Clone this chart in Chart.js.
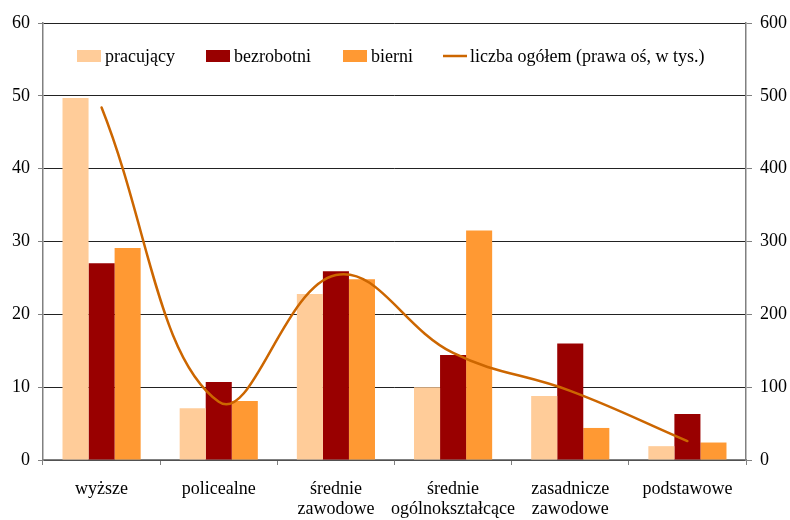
<!DOCTYPE html>
<html>
<head>
<meta charset="utf-8">
<script src="https://cdn.jsdelivr.net/npm/chart.js@4/dist/chart.umd.min.js"></script>
<style>
html,body{margin:0;padding:0;background:#fff;}
#wrap{width:790px;height:520px;position:relative;}
</style>
</head>
<body>
<div id="wrap"><canvas id="c" width="790" height="520"></canvas></div>
<script>
const categories = [['wyższe'], ['policealne'], ['średnie', 'zawodowe'], ['średnie', 'ogólnokształcące'], ['zasadnicze', 'zawodowe'], ['podstawowe']];
const pracujacy = [49.7, 7.1, 22.8, 10.0, 8.8, 1.9];
const bezrobotni = [27.0, 10.7, 25.9, 14.4, 16.0, 6.3];
const bierni = [29.1, 8.1, 24.8, 31.5, 4.4, 2.4];
const liczbaOgolem = [484, 80, 254, 147, 95, 26];
const seriesNames = ['pracujący', 'bezrobotni', 'bierni', 'liczba ogółem (prawa oś, w tys.)'];
const leftAxis = { min: 0, max: 60, step: 10 };
const rightAxis = { min: 0, max: 600, step: 100 };

const FONT = '"Liberation Serif", "Times New Roman", serif';
const colors = ['#FFCC99', '#990000', '#FF9933', '#CC6600'];

const legendPlugin = {
  id: 'insideLegend',
  afterDraw(chart) {
    const ctx = chart.ctx;
    const items = [
      { x: 77, tx: 105, type: 'box' },
      { x: 206, tx: 234, type: 'box' },
      { x: 343, tx: 371, type: 'box' },
      { x: 443, tx: 470, type: 'line' }
    ];
    const y = 56;
    ctx.save();
    ctx.font = '18px ' + FONT;
    ctx.textBaseline = 'middle';
    items.forEach((it, i) => {
      if (it.type === 'box') {
        ctx.fillStyle = colors[i];
        ctx.fillRect(it.x, y - 6, 24, 12);
      } else {
        ctx.strokeStyle = colors[i];
        ctx.lineWidth = 2.5;
        ctx.beginPath();
        ctx.moveTo(it.x, y);
        ctx.lineTo(it.x + 24, y);
        ctx.stroke();
      }
      ctx.fillStyle = '#000';
      ctx.fillText(seriesNames[i], it.tx, y + 1);
    });
    ctx.restore();
  }
};

new Chart(document.getElementById('c'), {
  type: 'bar',
  data: {
    labels: categories,
    datasets: [
      { type: 'line', label: seriesNames[3], data: liczbaOgolem, yAxisID: 'y1', borderColor: colors[3], borderWidth: 2.5, pointRadius: 0, tension: 0.4, order: 0, fill: false, borderCapStyle: 'round' },
      { label: seriesNames[0], data: pracujacy, backgroundColor: colors[0], yAxisID: 'y', order: 1 },
      { label: seriesNames[1], data: bezrobotni, backgroundColor: colors[1], yAxisID: 'y', order: 1 },
      { label: seriesNames[2], data: bierni, backgroundColor: colors[2], yAxisID: 'y', order: 1 }
    ]
  },
  options: {
    responsive: false,
    animation: false,
    devicePixelRatio: 1,
    layout: { padding: { top: 23, left: 0, right: 0, bottom: 0 } },
    datasets: { bar: { barPercentage: 1, categoryPercentage: 0.667 } },
    plugins: { legend: { display: false }, tooltip: { enabled: false } },
    scales: {
      x: {
        grid: { offset: true, drawOnChartArea: false, tickLength: 5, color: '#808080', tickColor: '#808080' },
        border: { color: '#808080', width: 1.5 },
        ticks: { color: '#000', font: { family: FONT, size: 18, lineHeight: 1.12 }, padding: 14, maxRotation: 0, autoSkip: false },
        afterFit(s) { s.height = 60; }
      },
      y: {
        position: 'left',
        min: leftAxis.min, max: leftAxis.max,
        ticks: { stepSize: leftAxis.step, color: '#000', font: { family: FONT, size: 18 }, padding: 8 },
        grid: { color: '#222222', tickColor: '#808080', tickLength: 5, lineWidth: 1 },
        border: { color: '#808080', width: 1.5 },
        afterFit(s) { s.width = 43; }
      },
      y1: {
        position: 'right',
        min: rightAxis.min, max: rightAxis.max,
        ticks: { stepSize: rightAxis.step, color: '#000', font: { family: FONT, size: 18 }, padding: 8 },
        grid: { drawOnChartArea: false, tickColor: '#808080', tickLength: 6 },
        border: { color: '#808080', width: 1.5 },
        afterFit(s) { s.width = 44; }
      }
    }
  },
  plugins: [legendPlugin]
});
</script>
</body>
</html>
